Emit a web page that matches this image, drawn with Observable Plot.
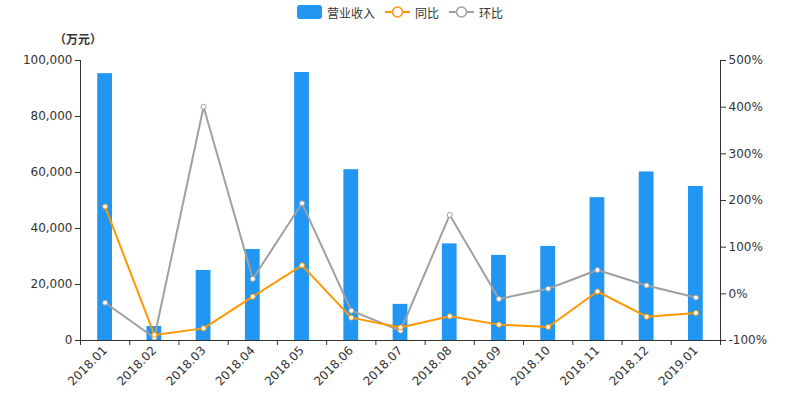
<!DOCTYPE html>
<html>
<head>
<meta charset="utf-8">
<script src="https://cdn.jsdelivr.net/npm/d3@7"></script>
<script src="https://cdn.jsdelivr.net/npm/@observablehq/plot@0.6"></script>
<style>
  body { margin: 0; background: #fff; font-family: "DejaVu Sans", "Noto Sans CJK SC", sans-serif; }
  #wrap { position: relative; width: 800px; height: 400px; }
  #legend { position: absolute; top: 0; left: 0; width: 800px; height: 24px; display: flex; justify-content: center; align-items: center; font-size: 12px; color: #333; font-family: "Noto Sans CJK SC", sans-serif; }
  .item { display: flex; align-items: center; margin: 0 5px; }
  .item svg { margin-right: 5px; }
  #unit { position: absolute; left: 54px; top: 30px; font-size: 12px; font-weight: bold; color: #333; font-family: "Noto Sans CJK SC", sans-serif; }
  #chart { position: absolute; top: 0; left: 0; }
</style>
</head>
<body>
<div id="wrap">
  <div id="chart"></div>
  <div id="legend"></div>
  <div id="unit">（万元）</div>
</div>
<script>
const months = ["2018.01","2018.02","2018.03","2018.04","2018.05","2018.06","2018.07","2018.08","2018.09","2018.10","2018.11","2018.12","2019.01"];
const revenue = [95300, 5000, 25000, 32500, 95700, 61000, 12900, 34500, 30400, 33600, 51000, 60200, 55000];
const yoy = [187, -88, -74, -6, 61, -51, -72, -48, -66, -71, 5, -49, -41];
const mom = [-19, -94, 401, 32, 194, -36, -79, 169, -11, 11, 51, 18, -8];
const leftTicks = [0, 20000, 40000, 60000, 80000, 100000];
const rightTicks = [-100, 0, 100, 200, 300, 400, 500];
const seriesNames = ["营业收入", "同比", "环比"];
const colors = ["#2196f3", "#ff9800", "#a0a0a0"];

const pctMin = -100, pctMax = 500, yMax = 100000;
const toY = p => (p - pctMin) / (pctMax - pctMin) * yMax;

const data = months.map((m, i) => ({i, m, rev: revenue[i], yoy: toY(yoy[i]), mom: toY(mom[i])}));
const idx = months.map((_, i) => i);
const bounds = [...idx.map(i => i - 0.5), months.length - 0.5];

const chart = Plot.plot({
  width: 800,
  height: 400,
  marginTop: 60,
  marginBottom: 60,
  marginLeft: 80,
  marginRight: 80,
  style: {fontFamily: "DejaVu Sans, sans-serif", fontSize: "12px", color: "#333"},
  x: {type: "linear", domain: [-0.5, months.length - 0.5]},
  y: {domain: [0, yMax]},
  marks: [
    Plot.rectY(data, {x1: d => d.i - 0.15, x2: d => d.i + 0.15, y: "rev", fill: colors[0]}),
    Plot.line(data, {x: "i", y: "mom", stroke: colors[2], strokeWidth: 2}),
    Plot.line(data, {x: "i", y: "yoy", stroke: colors[1], strokeWidth: 2}),
    Plot.dot(data, {x: "i", y: "mom", r: 2.5, fill: "#fff", stroke: colors[2], strokeWidth: 1}),
    Plot.dot(data, {x: "i", y: "yoy", r: 2.5, fill: "#fff", stroke: colors[1], strokeWidth: 1}),
    Plot.ruleY([0], {stroke: "#333"}),
    Plot.ruleX([-0.5, months.length - 0.5], {stroke: "#333"}),
    Plot.axisX({ticks: bounds, tickSize: 5, tickFormat: () => "", label: null, stroke: "#333"}),
    Plot.axisX({ticks: idx, tickSize: 0, tickPadding: 8, tickRotate: -45, tickFormat: i => months[i], label: null, fill: "#333"}),
    Plot.axisY({anchor: "left", ticks: leftTicks, tickSize: 5, tickPadding: 3, tickFormat: d => d3.format(",")(d), label: null, fill: "#333", stroke: "#333"}),
    Plot.axisY({anchor: "right", ticks: rightTicks.map(toY), tickSize: 5, tickPadding: 3, tickFormat: (d, k) => rightTicks[k] + "%", label: null, fill: "#333", stroke: "#333"})
  ]
});
document.getElementById("chart").appendChild(chart);

const legend = document.getElementById("legend");
seriesNames.forEach((name, k) => {
  const item = document.createElement("div");
  item.className = "item";
  let icon;
  if (k === 0) {
    icon = `<svg width="25" height="14"><rect x="0" y="0" width="25" height="14" rx="3" fill="${colors[0]}"/></svg>`;
  } else {
    icon = `<svg width="25" height="14"><line x1="0" y1="7" x2="25" y2="7" stroke="${colors[k]}" stroke-width="2"/><circle cx="12.5" cy="7" r="5" fill="#fff" stroke="${colors[k]}" stroke-width="1.5"/></svg>`;
  }
  item.innerHTML = icon + `<span>${name}</span>`;
  legend.appendChild(item);
});
</script>
</body>
</html>
